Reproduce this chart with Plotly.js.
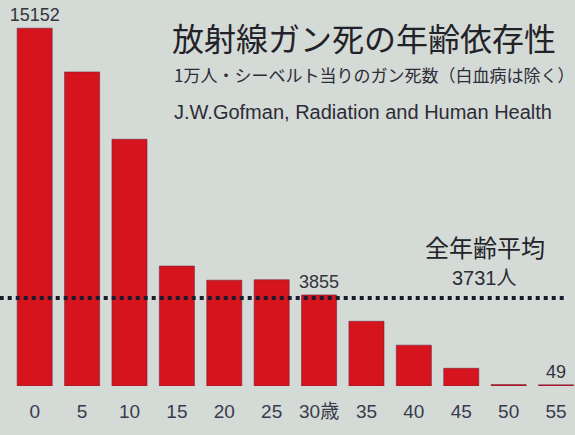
<!DOCTYPE html>
<html>
<head>
<meta charset="utf-8">
<script src="https://cdn.plot.ly/plotly-3.0.1.min.js"></script>
<style>
html,body{margin:0;padding:0;background:#d4dad6;}
#chart{width:575px;height:435px;}
</style>
</head>
<body>
<div id="chart"></div>
<script>
// Data
const ageLabels = ['0','5','10','15','20','25','30歳','35','40','45','50','55'];
const deaths = [15152, 13300, 10450, 5080, 4480, 4500, 3855, 2740, 1730, 750, 60, 49];
const shownLabels = ['15152','','','','','','3855','','','','','49'];
const averageDeaths = 3731;

const titleText = '放射線ガン死の年齢依存性';
const subtitleText = '1万人・シーベルト当りのガン死数（白血病は除く）';
const sourceText = 'J.W.Gofman, Radiation and Human Health';
const avgLabel = '全年齢平均';
const avgUnit = '人';

const latin = 'Liberation Sans, Arial, Noto Sans CJK JP, sans-serif';
const cjk = 'Noto Sans CJK JP, Liberation Sans, sans-serif';
const ink = '#2c2c36';

const trace = {
  type: 'bar',
  x: ageLabels,
  y: deaths,
  text: shownLabels,
  textposition: 'outside',
  constraintext: 'none',
  textfont: {family: latin, size: 18, color: '#34343e'},
  cliponaxis: false,
  marker: {color: 'rgb(214,20,30)', line: {color: 'rgba(110,30,60,0.55)', width: 1}},
  hoverinfo: 'x+y'
};

const layout = {
  width: 575, height: 435,
  margin: {l: 11, r: 0, t: 20, b: 49},
  paper_bgcolor: '#d4dad6',
  plot_bgcolor: '#d4dad6',
  showlegend: false,
  bargap: 0.26,
  title: {
    text: titleText,
    font: {family: cjk, size: 32, color: '#222228'},
    xref: 'paper', x: 0.2855, xanchor: 'left',
    yref: 'container', y: 0.908, yanchor: 'middle'
  },
  xaxis: {
    type: 'category',
    range: [-0.5, 11.4],
    showgrid: false, zeroline: false, showline: false,
    ticks: '',
    ticklabelstandoff: 12,
    tickfont: {family: latin, size: 19, color: '#3a3a4c'},
    fixedrange: true
  },
  yaxis: {
    range: [0, 15500],
    visible: false,
    showgrid: false, zeroline: false,
    fixedrange: true
  },
  shapes: [{
    type: 'line', xref: 'paper', yref: 'y',
    x0: -0.02, x1: 0.982, y0: averageDeaths, y1: averageDeaths,
    line: {color: '#1c1c30', width: 4, dash: 'dot'},
    layer: 'above'
  }],
  annotations: [
    {text: subtitleText, xref: 'paper', yref: 'paper', x: 0.2855, y: 0.85,
     xanchor: 'left', yanchor: 'middle', showarrow: false,
     font: {family: cjk, size: 17, color: ink}},
    {text: sourceText, xref: 'paper', yref: 'paper', x: 0.2855, y: 0.749,
     xanchor: 'left', yanchor: 'middle', showarrow: false,
     font: {family: latin, size: 20, color: ink}},
    {text: avgLabel, xref: 'paper', yref: 'paper', x: 0.84, y: 0.38,
     xanchor: 'center', yanchor: 'middle', showarrow: false,
     font: {family: cjk, size: 24, color: '#222228'}},
    {text: averageDeaths + avgUnit, xref: 'paper', yref: 'paper', x: 0.84, y: 0.295,
     xanchor: 'center', yanchor: 'middle', showarrow: false,
     font: {family: latin, size: 20, color: ink}}
  ]
};

Plotly.newPlot('chart', [trace], layout, {displayModeBar: false, staticPlot: true});
</script>
</body>
</html>
